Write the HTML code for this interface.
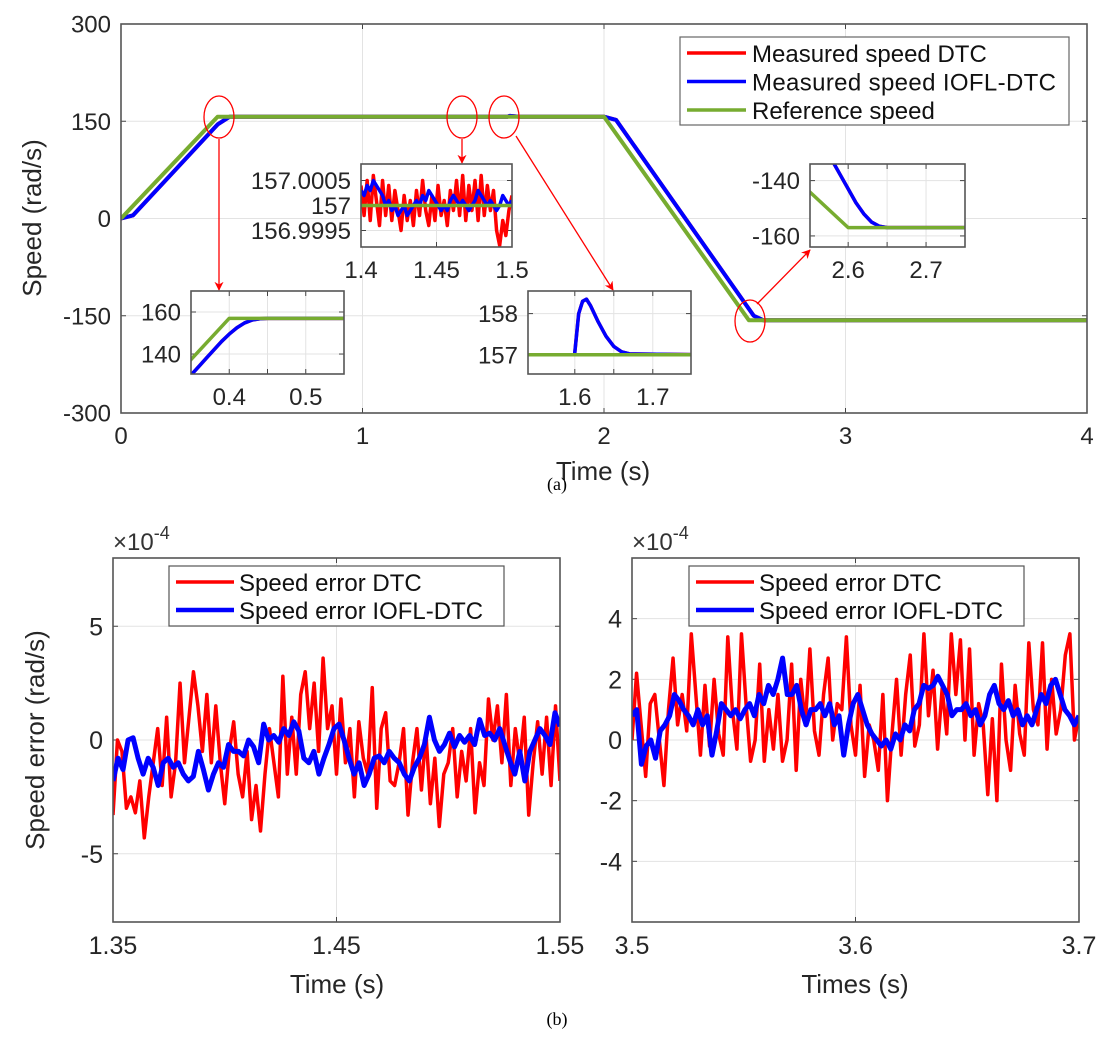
<!DOCTYPE html>
<html><head><meta charset="utf-8"><style>
html,body{margin:0;padding:0;background:#fff}
svg{display:block;font-family:"Liberation Sans",Arial,sans-serif}
</style></head><body>
<svg id="fig" width="1113" height="1038" viewBox="0 0 1113 1038"></svg>
<script>
// ---------- data ----------
const mainTicksX=[0,1,2,3,4];
const mainTicksY=[-300,-150,0,150,300];
const refT=[0,0.4,2.0,2.6,4];
const refV=[0,157,157,-157,-157];
const iofT=[0,0.05,0.4,0.45,1.6,1.61,1.65,2.0,2.05,2.62,2.66,4];
const iofV=[0,5,145,157,157,158.3,157,157,152,-150,-157,-157];
const dtcT=[0,0.05,0.4,0.45,1.6,1.61,1.65,2.0,2.05,2.62,2.66,4];
const dtcV=[0,5,145,157,157,158.3,157,157,152,-150,-157,-157];
// inset 1
const in1T=[0.35,0.36,0.37,0.38,0.39,0.40,0.41,0.42,0.43,0.44,0.45,0.47,0.55];
const in1V=[130,134,138,142,146,149.5,152.5,154.8,156.2,156.8,157,157,157];
// inset 2 (deviation from 157, x1e-4)
const in2Dtc=[4,-2,5,-3,6,1,-4,5,-2,4,-3,3,-1,-5,2,-3,1,-4,3,-2,5,-1,-4,2,-3,4,-2,1,-4,3,-1,5,-2,6,-3,4,-1,5,-3,6,-2,4,-1,3,-5,-8,-3,-6,-1,2];
const in2Iofl=[3,2,4,3,5,4,3,2,0,1,-1,0,-2,-1,0,-2,-1,0,1,0,2,1,3,2,1,0,-1,0,-1,1,2,1,0,1,0,-1,0,1,3,2,1,0,1,0,-1,0,2,1,0,1];
// inset 3
const in3T=[1.55,1.6,1.6,1.605,1.61,1.615,1.62,1.63,1.64,1.65,1.66,1.67,1.75];
const in3V=[157,157,157.05,158,158.3,158.35,158.2,157.8,157.45,157.2,157.07,157.02,157];
// inset 4
const in4T=[2.58,2.59,2.60,2.61,2.62,2.63,2.64,2.65,2.75];
const in4V=[-133,-138,-143,-148,-152,-155,-156.5,-157,-157];
// bottom-left errors (x1e-4)
const errLDtc=[-3.3,0,-0.5,-3,-2.5,-3.2,-1.8,-4.3,-2.5,-1,0.5,-2,1,-2.5,-1,2.5,-1,1,3,1.5,-0.5,2,-1,1.5,-1,-2.8,-0.5,0.8,-1.5,-2.5,-0.5,-3.5,-2,-4,-1.5,0.5,-1,-2.5,2.8,-1.5,1,-1.5,2,3,0.5,2.5,-0.5,3.6,0.5,1.5,-1.5,1.8,-1,0.5,-2.5,0.8,-0.8,-1.5,2.3,-3,0.5,1.2,-1.8,-2,-1,0.5,-3.3,-1,0.5,-2.2,0.3,-2.8,-0.8,-3.8,-1.5,-1,0.5,-2.5,-0.5,-1.8,0.5,-3.2,-1,-2,1.8,0,1.5,-1,2,-2,0.5,-1,1,-3.3,-1,0.8,-1.5,1,-2,1.5,-1.8];
const errLIofl=[-1.8,-0.8,-1.3,0,0.1,-0.8,-1.5,-0.8,-1.2,-2,-1,-0.8,-1.2,-1,-1.5,-1.8,-1.6,-0.5,-1.3,-2.2,-1.5,-1,-1.2,-0.2,-0.5,-0.5,-0.7,0,-0.3,-1,0.7,0,0.2,-0.1,0.5,0.2,0.8,0.4,-0.8,-1,-0.5,-1.5,-0.8,-0.2,0.5,0.7,0,-0.8,-1.5,-1,-2,-1.5,-0.8,-0.7,-1,-0.5,-0.8,-1,-1.5,-1.8,-1.2,-0.8,-0.2,1,0,-0.5,-0.2,0.3,-0.3,0.2,-0.1,0.2,-0.2,0.9,0.2,0.3,0,0.5,-0.2,-0.9,-1.5,-0.5,-1.8,-0.5,0,0.5,0.2,-0.2,1.2,0.6];
// bottom-right errors (x1e-4)
const errRDtc=[0,2.2,0.5,-1.2,1.2,1.5,0,-1.5,1,2.7,0.5,1.5,0.3,3.5,1.5,-0.5,1.8,-0.2,2,0.2,-0.5,3.4,1,-0.3,3.5,1.2,-0.7,0,2.5,-0.7,1,-0.3,1.5,-0.7,0,2.5,-1,2,0.5,3,0.3,-0.5,1.5,2.7,0,1.2,1,3.4,0.5,-0.5,1.8,-1.2,0.5,0,-1,1.5,-2,0.2,2,-0.5,1.5,2.8,-0.2,0.5,3.5,0.8,2.3,-0.3,1.7,0.2,3.5,1.5,3.3,0,3,-0.5,1.2,0.5,-1.8,0.7,-2,2.5,0,-1,1.8,0.2,-0.5,3.2,1,0.5,3.2,-0.3,2,0.2,1,2.8,3.5,0,0.8];
const errRIofl=[0.8,1,-0.8,-0.2,0,-0.6,0.3,0.5,0.8,1.5,1.3,1,0.8,0.5,1,0.5,0.8,-0.5,0.3,1.2,1,0.8,1,0.7,1,1.2,0.8,1.5,1.2,1.8,1.5,2,2.7,1.5,1.5,1.8,1,0.5,1,1,1.2,0.8,1.2,0.5,0.8,-0.5,0.5,1.2,1.5,1,0.5,0.2,0,-0.2,0,-0.3,0.2,0,0.5,0.3,1,1.2,1.8,1.7,1.8,2.1,1.8,1.5,0.8,1,1,1.2,0.8,1,0.5,0.8,1.5,1.8,1.2,1,1.3,0.8,1,0.5,0.8,0.5,1,1.5,1.2,1.8,2,1.5,1,0.8,0.5,0.8];

// ---------- helpers ----------
const NS='http://www.w3.org/2000/svg';
const svg=document.getElementById('fig');
function el(tag,attrs,parent,text){const e=document.createElementNS(NS,tag);for(const k in attrs)e.setAttribute(k,attrs[k]);if(text!==undefined)e.textContent=text;(parent||svg).appendChild(e);return e;}
function lin(d0,d1,r0,r1){return v=>r0+(v-d0)*(r1-r0)/(d1-d0);}
let clipN=0;
function axes(name,x0,y0,x1,y1,dx,dy,tx,ty,fs,grid,fmtX,fmtY){
  const g=el('g',{});
  
  
  const sx=lin(dx[0],dx[1],x0,x1), sy=lin(dy[0],dy[1],y1,y0);
  el('rect',{x:x0,y:y0,width:x1-x0,height:y1-y0,fill:'#fff'},g);
  tx.forEach(t=>{const x=sx(t);
    if(grid)el('line',{x1:x,x2:x,y1:y0,y2:y1,stroke:'#e3e3e3','stroke-width':1},g);
    el('line',{x1:x,x2:x,y1:y1,y2:y1-5,stroke:'#444'},g);el('line',{x1:x,x2:x,y1:y0,y2:y0+5,stroke:'#444'},g);
    const lb=el('text',{x:x,y:y1+fs+7,'font-size':fs,'text-anchor':'middle',fill:'#262626'},g,fmtX?fmtX(t):t);
    });
  ty.forEach(t=>{const y=sy(t);
    if(grid)el('line',{x1:x0,x2:x1,y1:y,y2:y,stroke:'#e3e3e3','stroke-width':1},g);
    el('line',{x1:x0,x2:x0+5,y1:y,y2:y,stroke:'#444'},g);el('line',{x1:x1,x2:x1-5,y1:y,y2:y,stroke:'#444'},g);
    const lb=el('text',{x:x0-10,y:y+fs*0.36,'font-size':fs,'text-anchor':'end',fill:'#262626'},g,fmtY?fmtY(t):t);
    });
  const id='c'+(clipN++);
  const cp=el('clipPath',{id:id},g);el('rect',{x:x0,y:y0,width:x1-x0,height:y1-y0},cp);
  const plot=el('g',{'clip-path':'url(#'+id+')'},g);
  el('rect',{x:x0,y:y0,width:x1-x0,height:y1-y0,fill:'none',stroke:'#555','stroke-width':1.6},g);
  return {sx,sy,plot,g};
}
function line(ax,ts,vs,color,w,name){
  const d=ts.map((t,i)=>(i?'L':'M')+ax.sx(t).toFixed(2)+','+ax.sy(vs[i]).toFixed(2)).join('');
  const p=el('path',{d:d,fill:'none',stroke:color,'stroke-width':w,'stroke-linejoin':'round'},ax.plot);
  return p;
}
function evenT(a,b,n){return Array.from({length:n},(_,i)=>a+(b-a)*i/(n-1));}
const RED='#ff0000',BLUE='#0000ff',GREEN='#77ac30';

// ---------- main plot ----------
const M=axes('main-speed-plot',121,24,1087,413,[0,4],[-300,300],mainTicksX,mainTicksY,24,true);
line(M,dtcT,dtcV,RED,4,'dtc-speed-line');
line(M,iofT,iofV,BLUE,4,'iofl-speed-line');
line(M,refT,refV,GREEN,4,'reference-speed-line');
let t;
t=el('text',{x:41,y:218,'font-size':26,'text-anchor':'middle',transform:'rotate(-90 41 218)',fill:'#262626'},svg,'Speed (rad/s)');

t=el('text',{x:603,y:480,'font-size':26,'text-anchor':'middle',fill:'#262626'},svg,'Time (s)');

t=el('text',{x:557,y:490,'font-size':18,'text-anchor':'middle','font-family':'Liberation Serif, serif'},svg,'(a)');


// main legend
const lg=el('g',{});

el('rect',{x:680,y:37,width:389,height:88,fill:'#fff',stroke:'#666','stroke-width':1.2},lg);
[['Measured speed DTC',RED],['Measured speed IOFL-DTC',BLUE],['Reference speed',GREEN]].forEach((e,i)=>{
  const y=53+i*28.5;
  el('line',{x1:687,x2:746,y1:y,y2:y,stroke:e[1],'stroke-width':3.5},lg);
  const tx=el('text',{x:752,y:y+9,'font-size':24,fill:'#111',textLength:e[0]==='Measured speed IOFL-DTC'?304:null},lg,e[0]);
  if(e[0]!=='Measured speed IOFL-DTC')tx.removeAttribute('textLength');
  
});

// circles & arrows
const ann=el('g',{});

el('defs',{},ann).innerHTML='<marker id="ah" viewBox="0 0 10 10" refX="9" refY="5" markerWidth="7" markerHeight="7" orient="auto"><path d="M0,0L10,5L0,10L3,5z" fill="#ff0000"/></marker>';
[[219,117],[462,117],[504,117],[750,321]].forEach(c=>el('ellipse',{cx:c[0],cy:c[1],rx:15,ry:21,fill:'none',stroke:RED,'stroke-width':1.3},ann));
[[219,139,219,290],[462,139,462,163],[516,136,613,290],[757,304,810,250]].forEach(a=>el('line',{x1:a[0],y1:a[1],x2:a[2],y2:a[3],stroke:RED,'stroke-width':1.3,'marker-end':'url(#ah)'},ann));

// inset 1
const I1=axes('inset-0p4',191,291,344,374,[0.35,0.55],[130.5,170],[0.4,0.45,0.5],[140,160],24,true,v=>v===0.45?'':v);
line(I1,in1T,in1V,RED,3.5,'inset1-dtc');
line(I1,in1T,in1V,BLUE,3.5,'inset1-iofl');
line(I1,[0.3,0.4,0.6],[117.75,157,157],GREEN,3.5,'inset1-reference');
// inset 2
const I2=axes('inset-1p4',361,164,512,247,[1.4,1.5],[-8.3,8.3],[1.4,1.45,1.5],[-5,0,5],24,true,null,v=>v===5?'157.0005':v===0?'157':'156.9995');
line(I2,evenT(1.4,1.5,in2Dtc.length),in2Dtc,RED,3.5,'inset2-dtc');
line(I2,evenT(1.4,1.5,in2Iofl.length),in2Iofl,BLUE,3.5,'inset2-iofl');
line(I2,[1.4,1.5],[0,0],GREEN,3.5,'inset2-reference');
// inset 3
const I3=axes('inset-1p6',528,291,691,374,[1.54,1.749],[156.53,158.55],[1.6,1.65,1.7],[157,158],24,true,v=>v===1.65?'':v);
line(I3,in3T,in3V,RED,3.5,'inset3-dtc');
line(I3,in3T,in3V,BLUE,3.5,'inset3-iofl');
line(I3,[1.5,1.8],[157,157],GREEN,3.5,'inset3-reference');
// inset 4
const I4=axes('inset-2p6',810,164,965,247,[2.551,2.75],[-164,-134],[2.6,2.65,2.7],[-160,-140],24,true,v=>v===2.65?'':v);
line(I4,in4T,in4V,RED,3.5,'inset4-dtc');
line(I4,in4T,in4V,BLUE,3.5,'inset4-iofl');
line(I4,[2.5,2.6,2.8],[-130.8,-157,-157],GREEN,3.5,'inset4-reference');

// ---------- bottom-left ----------
const L=axes('error-plot-left',113,558,560,922,[1.35,1.55],[-8,8],[1.35,1.45,1.55],[-5,0,5],25,true);
line(L,evenT(1.35,1.55,errLDtc.length),errLDtc,RED,3.5,'left-dtc-error');
line(L,evenT(1.35,1.55,errLIofl.length),errLIofl,BLUE,5,'left-iofl-error');
// ---------- bottom-right ----------
const R=axes('error-plot-right',632,558,1079,922,[3.5,3.7],[-6,6],[3.5,3.6,3.7],[-4,-2,0,2,4],25,true);
line(R,evenT(3.5,3.7,errRDtc.length),errRDtc,RED,3.5,'right-dtc-error');
line(R,evenT(3.5,3.7,errRIofl.length),errRIofl,BLUE,5,'right-iofl-error');

[[113,'left'],[632,'right']].forEach(p=>{
  const g=el('text',{x:p[0],y:550,'font-size':24,fill:'#333'},svg);
  
  g.innerHTML='×10<tspan dy="-11" font-size="18">-4</tspan>';
});
[[169,'left'],[689,'right']].forEach(p=>{
  const g=el('g',{});
  
  el('rect',{x:p[0],y:566,width:335,height:60,fill:'#fff',stroke:'#555','stroke-width':1.2},g);
  el('line',{x1:p[0]+7,x2:p[0]+65,y1:582,y2:582,stroke:RED,'stroke-width':3.5},g);
  el('line',{x1:p[0]+7,x2:p[0]+65,y1:610,y2:610,stroke:BLUE,'stroke-width':4.5},g);
  el('text',{x:p[0]+70,y:591,'font-size':24,fill:'#111'},g,'Speed error DTC');
  el('text',{x:p[0]+70,y:619,'font-size':24,fill:'#111'},g,'Speed error IOFL-DTC');
});
t=el('text',{x:44,y:740,'font-size':26,'text-anchor':'middle',transform:'rotate(-90 44 740)',fill:'#262626'},svg,'Speed error (rad/s)');

t=el('text',{x:337,y:993,'font-size':26,'text-anchor':'middle',fill:'#262626'},svg,'Time (s)');

t=el('text',{x:855,y:993,'font-size':26,'text-anchor':'middle',fill:'#262626'},svg,'Times (s)');

t=el('text',{x:557,y:1025,'font-size':18,'text-anchor':'middle','font-family':'Liberation Serif, serif'},svg,'(b)');

</script>
</body></html>
